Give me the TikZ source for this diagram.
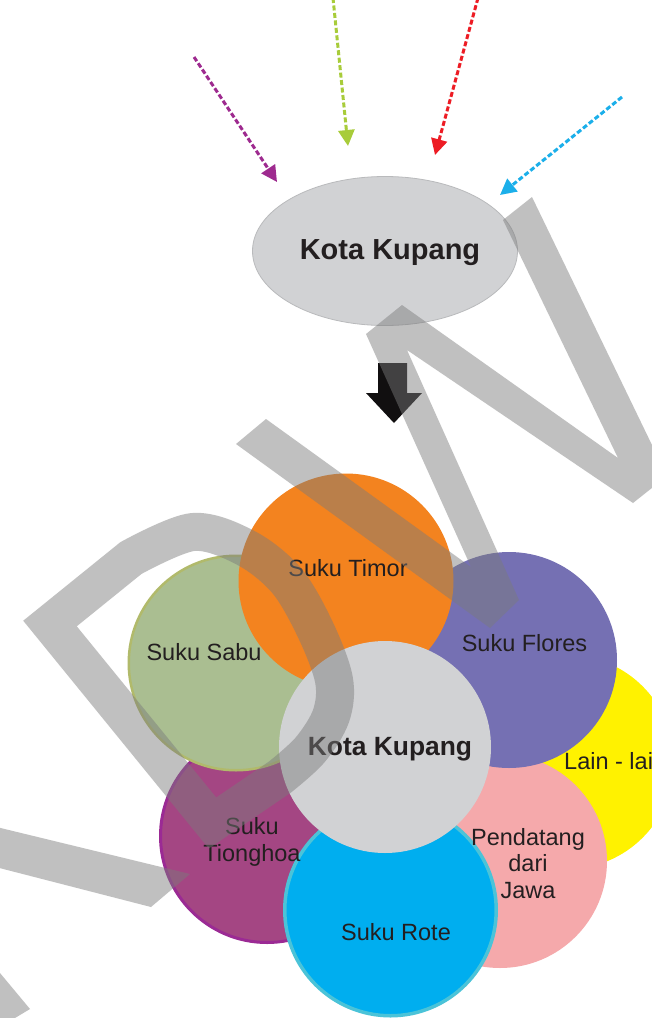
\documentclass[tikz,border=0pt]{standalone}
\usepackage{fontspec}
\setmainfont{Liberation Sans}
\usetikzlibrary{shapes.geometric,arrows.meta}
\definecolor{cyellow}{HTML}{FFF200}
\definecolor{cpink}{HTML}{F5A9AB}
\definecolor{cpurple}{HTML}{7570B3}
\definecolor{cmag}{HTML}{A44683}
\definecolor{cmagb}{HTML}{9B2A94}
\definecolor{cblue}{HTML}{00AEEF}
\definecolor{cblueb}{HTML}{4BC3D8}
\definecolor{cgreen}{HTML}{AABE91}
\definecolor{cgreenb}{HTML}{B1BA6B}
\definecolor{corange}{HTML}{F3831F}
\definecolor{cgray}{HTML}{D1D2D4}
\definecolor{cgrayb}{HTML}{B9BABC}
\definecolor{txt}{HTML}{231F20}
\definecolor{cblack}{HTML}{110F10}
\definecolor{wmgray}{HTML}{7B7B7B}
\definecolor{apurple}{HTML}{9E2A8F}
\definecolor{agreen}{HTML}{A8CC3A}
\definecolor{ared}{HTML}{ED1C24}
\definecolor{ablue}{HTML}{1BAFEA}
\begin{document}
\begin{tikzpicture}[x=1pt,y=-1pt,
  venn/.style={circle, inner sep=0pt, outer sep=0pt},
  lbl/.style={text=txt, font=\fontsize{23.5}{26.5}\selectfont, align=center, anchor=base, inner sep=0pt},
  boldlbl/.style={text=txt, font=\bfseries\fontsize{26.4}{30}\selectfont, anchor=base, inner sep=0pt},
  dasharrow/.style={line width=3pt, dash pattern=on 5pt off 2.5pt, -{Triangle[length=16pt,width=16pt]}},
  wm/.style={fill=wmgray, fill opacity=0.47},
  wmline/.style={draw=wmgray, draw opacity=0.47, line width=38pt, line join=miter}]
\useasboundingbox (0,0) rectangle (652,1018);
\fill[white] (0,0) rectangle (652,1018);

% top ellipse
\node[ellipse, fill=cgray, draw=cgrayb, line width=0.8pt, minimum width=265pt, minimum height=149pt, inner sep=0pt] (top) at (385,251) {};
\node[boldlbl, font=\bfseries\fontsize{29}{32}\selectfont] (toptext) at (390,259) {Kota Kupang};

% incoming dashed arrows
\coordinate (s1) at (194,57);  \coordinate (e1) at (277,182);
\coordinate (s2) at (333,-2);  \coordinate (e2) at (348,146);
\coordinate (s3) at (478,-2);  \coordinate (e3) at (435,155);
\coordinate (s4) at (622,97);  \coordinate (e4) at (500,195);
\draw[dasharrow, apurple] (s1) -- (e1);
\draw[dasharrow, agreen] (s2) -- (e2);
\draw[dasharrow, ared] (s3) -- (e3);
\draw[dasharrow, ablue] (s4) -- (e4);

% block arrow
\fill[cblack] (378,363) -- (407,363) -- (407,393) -- (422,393) -- (394,423) -- (366,393) -- (378,393) -- cycle;

% venn circles
\node[venn, fill=cyellow, minimum size=214pt] (lain) at (567,762) {};
\node[venn, fill=cpink, minimum size=214pt] (jawa) at (500,861) {};
\node[venn, fill=cpurple, minimum size=216pt] (flores) at (509,660) {};
\node[venn, fill=cmag, draw=cmagb, line width=3pt, minimum size=213pt] (tiong) at (267,836) {};
\node[venn, fill=cblue, draw=cblueb, line width=3.5pt, minimum size=211.5pt] (rote) at (390.5,910) {};
\node[venn, fill=cgreen, draw=cgreenb, line width=2.5pt, minimum size=214.5pt] (sabu) at (236,663) {};
\node[venn, fill=corange, minimum size=215pt] (timor) at (346,581) {};
\node[venn, fill=cgray, minimum size=212pt] (kota) at (385,747) {};

% labels
\node[lbl] (tTimor) at (348,576) {Suku Timor};
\node[lbl] (tSabu) at (204,660) {Suku Sabu};
\node[lbl] (tFlores) at (524.5,651) {Suku Flores};
\node[boldlbl] (tKota) at (390,755) {Kota Kupang};
\node[lbl] (tTiong) at (252,861) {Suku\\Tionghoa};
\node[lbl] (tRote) at (396,940) {Suku Rote};
\node[lbl] (tJawa) at (528,898) {Pendatang\\dari\\Jawa};
\node[lbl, anchor=base west] (tLain) at (564,769) {Lain - lain};

% watermark
\fill[wm] (503,220) -- (532,197) -- (667,476) -- (633,503) -- (407,350) -- (519,600) -- (490,628) -- (236,444) -- (266,419) -- (471,567) -- (366,334) -- (402,305) -- (618,458) -- cycle;
\draw[wmline] (50,623.5) -- (131,558) -- plot[smooth, tension=0.55] coordinates {(131,558) (193,532) (246,548) (287,581) (316,631) (334,680) (331,716) (310,750) (280,777)} -- (212.5,823) -- cycle;
\fill[wm] (-20,823) -- (190,874) -- (151,907) -- (-20,863) -- cycle;
\fill[wm] (-20,949) -- (30,1009) -- (0,1027) -- (-20,1040) -- cycle;
\end{tikzpicture}
\end{document}
